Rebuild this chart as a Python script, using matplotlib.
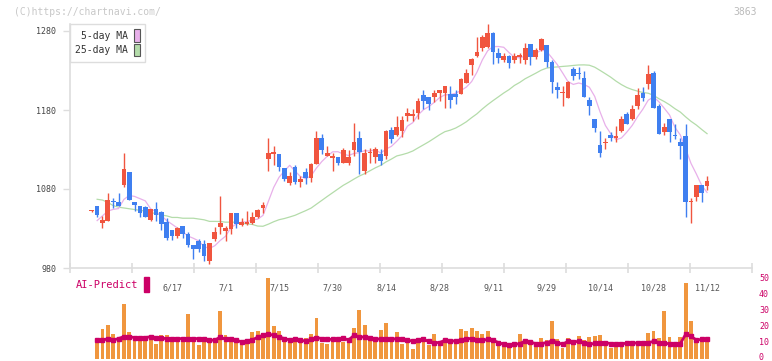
"""Nippon Paper (3863) daily candles + MA5/MA25, volume bars and AI-Predict line."""
import numpy as np
import pandas as pd
import matplotlib
matplotlib.use("Agg")
import matplotlib.pyplot as plt
from matplotlib.patches import Patch

W, H = 772, 361
MONO = "DejaVu Sans Mono"

# daily OHLC, one entry per trading day (first = 5/27, last = 11/12)
OPEN = [1052, 1059, 1037, 1040, 1065, 1064, 1085, 1101, 1064, 1059,
        1057, 1041, 1055, 1051, 1038, 1028, 1021, 1033, 1023, 1009,
        1014, 1010, 989, 1017, 1032, 1027, 1030, 1049, 1035, 1036,
        1037, 1044, 1056, 1118, 1124, 1124, 1106, 1087, 1108, 1089,
        1102, 1094, 1112, 1145, 1122, 1119, 1120, 1113, 1113, 1130,
        1144, 1103, 1125, 1121, 1124, 1122, 1155, 1148, 1153, 1172,
        1173, 1176, 1199, 1196, 1197, 1202, 1202, 1200, 1200, 1200,
        1214, 1237, 1248, 1258, 1260, 1277, 1252, 1243, 1248, 1243,
        1247, 1243, 1263, 1247, 1256, 1262, 1241, 1209, 1201, 1195,
        1232, 1226, 1220, 1193, 1169, 1136, 1138, 1148, 1145, 1154,
        1175, 1169, 1185, 1201, 1213, 1227, 1185, 1152, 1168, 1148,
        1140, 1147, 1063, 1070, 1085, 1084]
HIGH = [1053, 1059, 1046, 1075, 1068, 1075, 1126, 1101, 1064, 1059,
        1059, 1055, 1063, 1052, 1043, 1028, 1032, 1033, 1025, 1009,
        1017, 1015, 1012, 1032, 1071, 1033, 1049, 1049, 1043, 1052,
        1051, 1055, 1064, 1144, 1134, 1124, 1107, 1101, 1110, 1097,
        1107, 1113, 1153, 1149, 1134, 1126, 1121, 1132, 1129, 1163,
        1153, 1130, 1132, 1133, 1130, 1155, 1159, 1172, 1172, 1182,
        1181, 1195, 1205, 1196, 1205, 1205, 1210, 1210, 1205, 1221,
        1232, 1246, 1272, 1275, 1289, 1279, 1258, 1252, 1250, 1252,
        1252, 1265, 1263, 1259, 1271, 1262, 1243, 1215, 1211, 1217,
        1235, 1234, 1229, 1196, 1169, 1154, 1144, 1152, 1160, 1172,
        1178, 1186, 1208, 1209, 1237, 1229, 1188, 1163, 1168, 1162,
        1144, 1162, 1068, 1085, 1085, 1097]
LOW = [1051, 1045, 1031, 1040, 1056, 1058, 1082, 1066, 1052, 1045,
       1044, 1040, 1040, 1028, 1016, 1016, 1018, 1018, 1006, 991,
       1000, 989, 985, 1014, 1023, 1014, 1023, 1030, 1033, 1034,
       1036, 1043, 1050, 1103, 1110, 1103, 1090, 1085, 1086, 1082,
       1086, 1089, 1112, 1124, 1122, 1103, 1110, 1113, 1110, 1122,
       1099, 1099, 1113, 1113, 1110, 1118, 1138, 1147, 1146, 1166,
       1166, 1169, 1181, 1180, 1190, 1192, 1183, 1183, 1187, 1200,
       1214, 1224, 1247, 1255, 1258, 1238, 1239, 1241, 1233, 1239,
       1240, 1238, 1237, 1245, 1255, 1235, 1201, 1195, 1185, 1195,
       1218, 1219, 1196, 1174, 1152, 1120, 1131, 1141, 1140, 1152,
       1162, 1167, 1181, 1191, 1207, 1183, 1150, 1148, 1140, 1143,
       1118, 1044, 1037, 1065, 1064, 1079]
CLOSE = [1053, 1047, 1041, 1066, 1064, 1058, 1105, 1066, 1060, 1050,
         1044, 1055, 1047, 1036, 1018, 1021, 1031, 1023, 1009, 1004,
         1004, 995, 1012, 1026, 1037, 1031, 1049, 1036, 1038, 1038,
         1044, 1053, 1060, 1126, 1127, 1108, 1093, 1096, 1089, 1093,
         1094, 1112, 1145, 1130, 1126, 1122, 1113, 1130, 1121, 1139,
         1127, 1126, 1127, 1131, 1116, 1153, 1143, 1159, 1167, 1176,
         1175, 1192, 1192, 1187, 1202, 1205, 1210, 1193, 1196, 1219,
         1227, 1245, 1253, 1273, 1277, 1253, 1246, 1248, 1239, 1248,
         1249, 1258, 1247, 1256, 1270, 1241, 1216, 1205, 1203, 1215,
         1223, 1225, 1196, 1185, 1157, 1125, 1139, 1144, 1147, 1168,
         1162, 1181, 1199, 1195, 1225, 1183, 1150, 1158, 1152, 1147,
         1135, 1063, 1065, 1085, 1075, 1090]

MA5_HEAD = [1040, 1046, 1052]                      # days 1..3
MA25_HEAD = [1067, 1066, 1063, 1059, 1057, 1056, 1055, 1054, 1053, 1052,
             1050, 1049, 1047, 1046, 1044, 1044, 1043, 1043, 1043, 1042,
             1041, 1039, 1039]                     # days 1..23

# lower panel, from day 1 to the last day
VOLUME = [9.1, 17.4, 19.9, 14.3, 10.1, 33.1, 15.7, 11.6, 11.6, 11.1,
          10.5, 8.0, 13.6, 13.6, 10.1, 11.1, 10.1, 26.8, 11.1, 7.4,
          11.6, 12.2, 12.2, 28.7, 13.6, 12.6, 9.6, 10.5, 9.6, 15.7,
          16.4, 14.9, 49.5, 19.5, 16.4, 12.6, 10.1, 12.2, 10.1, 12.2,
          14.3, 24.3, 8.6, 8.0, 11.1, 11.1, 9.6, 9.6, 18.0, 29.4,
          19.9, 12.2, 11.6, 16.8, 21.2, 11.1, 15.7, 8.0, 9.6, 4.8,
          10.1, 12.6, 7.4, 14.3, 9.1, 11.1, 10.1, 10.1, 17.4, 16.4,
          18.0, 16.4, 14.3, 16.4, 12.2, 10.1, 6.3, 8.0, 6.9, 14.3,
          9.1, 9.6, 8.6, 11.8, 10.7, 22.6, 11.1, 5.9, 11.8, 10.7,
          13.4, 10.7, 12.6, 13.4, 13.6, 9.1, 5.5, 7.4, 6.3, 8.0,
          9.1, 10.1, 9.1, 14.9, 16.4, 11.8, 28.9, 12.6, 9.1, 12.6,
          46.3, 22.6, 11.1, 10.5, 10.1]
AI_PREDICT = [10.7, 10.4, 11.6, 10.7, 11.6, 12.8, 12.8, 12.2, 11.8, 12.2,
              12.8, 12.2, 11.8, 11.6, 11.6, 11.6, 11.6, 11.6, 11.6, 11.6,
              11.6, 10.7, 10.5, 12.6, 11.1, 11.1, 10.5, 9.6, 10.1, 10.7,
              12.5, 13.6, 14.3, 13.8, 12.6, 11.6, 10.7, 11.1, 10.5, 10.1,
              11.1, 12.2, 11.6, 11.1, 11.1, 11.1, 11.8, 10.7, 13.6, 12.6,
              12.6, 11.8, 11.6, 11.1, 11.1, 11.1, 11.6, 11.1, 10.5, 10.1,
              10.5, 11.1, 9.8, 9.1, 9.1, 10.5, 10.1, 10.1, 10.5, 11.6,
              11.6, 10.5, 10.5, 11.1, 10.5, 9.1, 8.0, 7.8, 8.0, 8.4,
              10.1, 9.4, 8.4, 8.4, 9.1, 10.1, 9.1, 8.0, 9.8, 9.6,
              9.8, 8.6, 8.0, 8.6, 9.1, 9.1, 8.4, 8.0, 8.4, 8.6,
              9.1, 8.6, 9.1, 9.1, 9.8, 9.1, 8.6, 8.4, 8.4, 8.4,
              14.3, 13.0, 10.7, 11.1, 11.1]

DATE_IDX = [15, 25, 35, 45, 55, 65, 75, 85, 95, 105, 115]
DATE_LABELS = ["6/17", "7/1", "7/15", "7/30", "8/14", "8/28",
               "9/11", "9/29", "10/14", "10/28", "11/12"]
PRICE_TICKS = [980, 1080, 1180, 1280]
AI_TICKS = [0, 10, 20, 30, 40, 50]

UP, DOWN = "#f0553f", "#3f7ff0"
MA5_C, MA25_C = "#e8b0ea", "#b4dcaa"
VOL_C, AI_C = "#f0963e", "#cc0066"
AXIS_C = "#dddddd"
XLIM = (-4.07, 123.4)
AI_PX = 1.588   # pixels per unit on the lower panel


def px_rect(x0, y0, x1, y1):
    """pixel box (top-left origin) -> figure fraction rect"""
    return [x0 / W, 1 - y1 / H, (x1 - x0) / W, (y1 - y0) / H]


def main():
    fig = plt.figure(figsize=(W / 100, H / 100), dpi=100)
    ax = fig.add_axes(px_rect(70, 24, 752, 268))
    axv = fig.add_axes(px_rect(70, 276, 752, 361))
    axv.patch.set_visible(False)   # leave the date labels of the top panel visible

    o, h, l, c = map(np.array, (OPEN, HIGH, LOW, CLOSE))
    x = np.arange(len(c))
    up = c >= o
    col = np.where(up, UP, DOWN)

    # moving averages
    s = pd.Series(CLOSE, dtype=float)
    ma5 = s.rolling(5).mean()
    ma5.iloc[1:1 + len(MA5_HEAD)] = MA5_HEAD
    ma25 = s.rolling(25).mean()
    ma25.iloc[1:1 + len(MA25_HEAD)] = MA25_HEAD
    ax.plot(x, ma25, color=MA25_C, lw=0.9, zorder=1)
    ax.plot(x, ma5, color=MA5_C, lw=0.9, zorder=1)

    # candles
    ax.vlines(x, l, h, colors=col, lw=1.0, zorder=2)
    ax.bar(x, np.maximum(np.abs(c - o), 1.3), bottom=np.minimum(o, c),
           width=0.88, color=col, linewidth=0, zorder=3)

    ax.set_xlim(*XLIM)
    ax.set_ylim(980, 980 + (268 - 24) / 0.79)
    for sp in ("top", "right"):
        ax.spines[sp].set_visible(False)
    for sp in ("left", "bottom"):
        ax.spines[sp].set_color(AXIS_C)
        ax.spines[sp].set_linewidth(1.2)
    ax.set_yticks(PRICE_TICKS)
    ax.set_yticklabels([str(t) for t in PRICE_TICKS], family=MONO, fontsize=6, color="#444444")
    ax.tick_params(axis="y", length=5, width=1.0, color=AXIS_C, pad=5)
    ax.set_xticks(DATE_IDX)
    ax.set_xticklabels(DATE_LABELS, family=MONO, fontsize=6, color="#555555")
    ax.tick_params(axis="x", which="major", length=0, pad=11)
    ax.set_xticks(np.linspace(*XLIM, 12), minor=True)
    ax.tick_params(axis="x", which="minor", length=7, width=1.2, color=AXIS_C, direction="inout")

    leg = ax.legend([Patch(facecolor=MA5_C, edgecolor="#555555", lw=0.8),
                     Patch(facecolor=MA25_C, edgecolor="#555555", lw=0.8)],
                    ["5-day MA", "25-day MA"], loc="upper left", bbox_to_anchor=(0, 1),
                    borderaxespad=0, markerfirst=False, fancybox=False, framealpha=1,
                    edgecolor=AXIS_C, prop=dict(family=MONO, size=7),
                    handlelength=0.6, handleheight=1.6, handletextpad=0.6,
                    labelspacing=0.2, borderpad=0.55)
    leg.get_frame().set_linewidth(1.0)
    for t in leg.get_texts():
        t.set_color("#333333")
        t.set_ha("right")

    # lower panel (0 sits at y=357 px, bars start a touch below it)
    xv = np.arange(1, len(c))
    axv.bar(xv, np.array(VOLUME) + 1.2, bottom=-1.2, width=0.7, color=VOL_C,
            linewidth=0, zorder=1)
    axv.plot(xv, AI_PREDICT, color=AI_C, lw=2.0, marker="s", ms=2.2, zorder=2)
    axv.set_xlim(*XLIM)
    axv.set_ylim(-(361 - 357) / AI_PX, (357 - 276) / AI_PX)
    for sp in axv.spines.values():
        sp.set_visible(False)
    axv.set_xticks([])
    axv.yaxis.tick_right()
    axv.set_yticks(AI_TICKS)
    axv.set_yticklabels([str(t) for t in AI_TICKS], family=MONO, fontsize=6, color=AI_C)
    axv.tick_params(axis="y", length=0, pad=5)
    leg2 = axv.legend([Patch(facecolor=AI_C, edgecolor=AI_C)], ["AI-Predict"],
                      loc="upper left", bbox_to_anchor=(0.008, 1.0), borderaxespad=0,
                      markerfirst=False, frameon=False, prop=dict(family=MONO, size=7.5),
                      handlelength=0.55, handleheight=1.9, handletextpad=0.5, borderpad=0.05)
    for t in leg2.get_texts():
        t.set_color(AI_C)

    fig.text(14 / W, 1 - 12 / H, "(C)https://chartnavi.com/", family=MONO, fontsize=7,
             color="#c8c8c8", va="center", ha="left")
    fig.text(757 / W, 1 - 12 / H, "3863", family=MONO, fontsize=7,
             color="#bbbbbb", va="center", ha="right")

    fig.savefig("out.png", dpi=100)


if __name__ == "__main__":
    main()
